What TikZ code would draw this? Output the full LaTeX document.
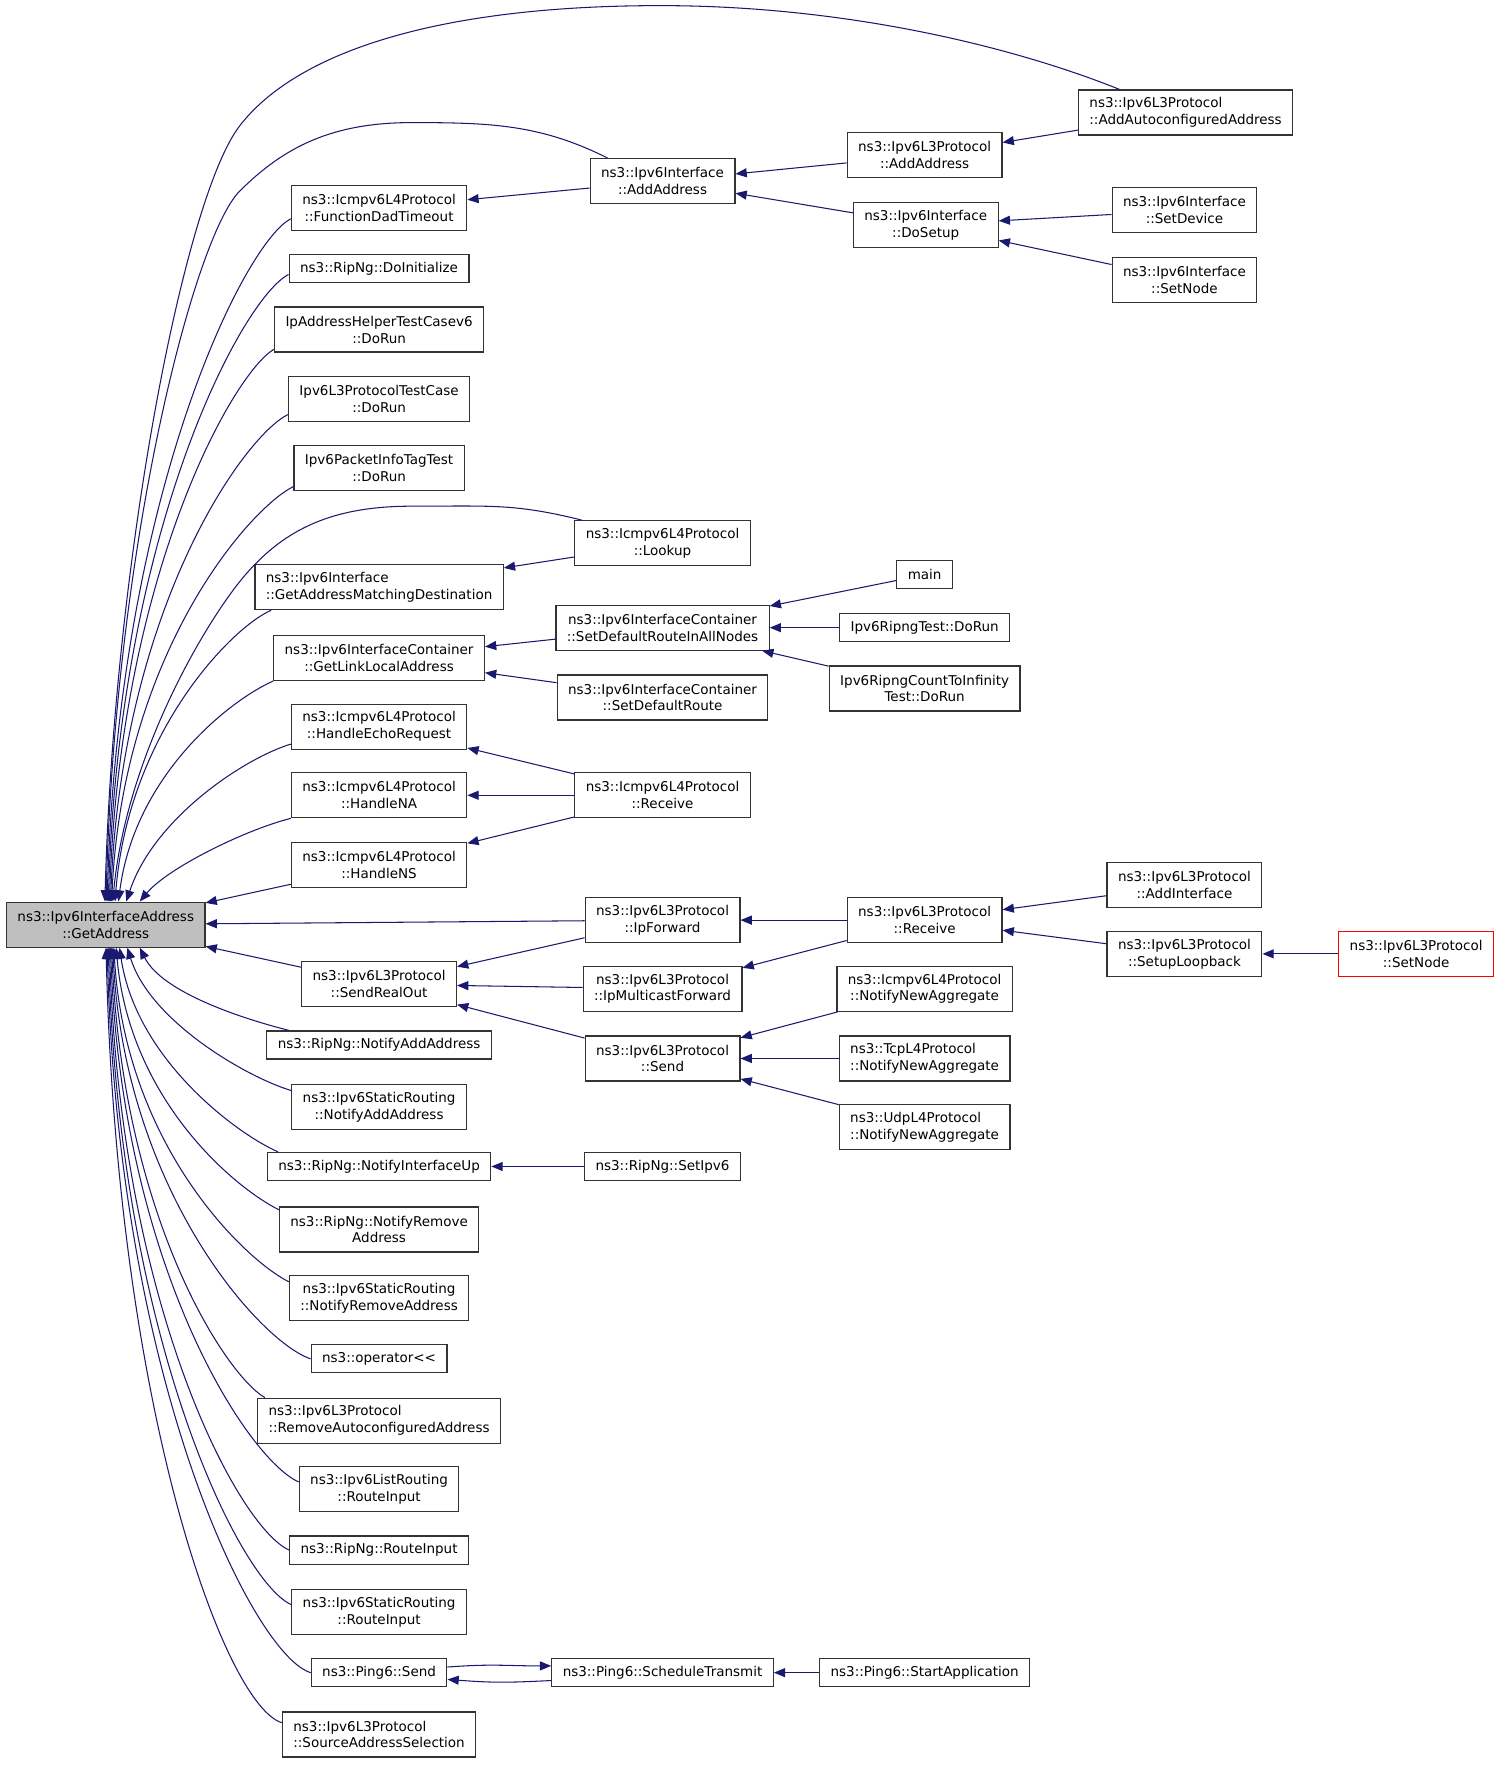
\documentclass[tikz,border=0pt]{standalone}
\usepackage{fontspec}
\setmainfont{DejaVu Sans}
\usetikzlibrary{arrows.meta}
\definecolor{edgeblue}{HTML}{191970}
\definecolor{rootgray}{HTML}{BFBFBF}
\tikzset{
  func/.style={draw=black!80, line width=0.8pt, fill=white, inner xsep=7.3pt,
    inner ysep=2pt, minimum height=18.75pt, align=center,
    font=\fontsize{9}{11.25}\selectfont},
  func2/.style={func, minimum height=30pt},
  leftfunc/.style={func2, align=left},
  focus/.style={func2, fill=rootgray},
  redbox/.style={func2, draw=red},
  callarrow/.style={draw=edgeblue, line width=0.7pt,
    -{Triangle[length=7.5pt,width=6pt]}}
}
\begin{document}
\begin{tikzpicture}[x=0.75pt, y=-0.75pt]
\fill[white] (0,0) rectangle (1334,1570);
\useasboundingbox (0,0) rectangle (1334,1570);

% Root node
\node[focus] (root) at (94,822) {ns3::Ipv6InterfaceAddress\\::GetAddress};

% First level
\node[func2] (dadtimeout) at (337,185) {ns3::Icmpv6L4Protocol\\::FunctionDadTimeout};
\node[func] (doinit) at (337,239) {ns3::RipNg::DoInitialize};
\node[func2] (helperrun) at (337,293) {IpAddressHelperTestCasev6\\::DoRun};
\node[func2] (l3testrun) at (337,355) {Ipv6L3ProtocolTestCase\\::DoRun};
\node[func2] (taginforun) at (337,416) {Ipv6PacketInfoTagTest\\::DoRun};
\node[leftfunc] (matchdest) at (337,522) {ns3::Ipv6Interface\\::GetAddressMatchingDestination};
\node[func2] (linklocal) at (337,585) {ns3::Ipv6InterfaceContainer\\::GetLinkLocalAddress};
\node[func2] (echoreq) at (337,646) {ns3::Icmpv6L4Protocol\\::HandleEchoRequest};
\node[func2] (handlena) at (337,707) {ns3::Icmpv6L4Protocol\\::HandleNA};
\node[func2] (handlens) at (337,769) {ns3::Icmpv6L4Protocol\\::HandleNS};
\node[func2] (sendrealout) at (337,875) {ns3::Ipv6L3Protocol\\::SendRealOut};
\node[func] (notifyadd) at (337,929) {ns3::RipNg::NotifyAddAddress};
\node[func2] (staticadd) at (337,984) {ns3::Ipv6StaticRouting\\::NotifyAddAddress};
\node[func] (ifup) at (337,1037) {ns3::RipNg::NotifyInterfaceUp};
\node[func2] (notifyrem) at (337,1093) {ns3::RipNg::NotifyRemove\\Address};
\node[func2] (staticrem) at (337,1154) {ns3::Ipv6StaticRouting\\::NotifyRemoveAddress};
\node[func] (oplshift) at (337,1208) {ns3::operator<{}<};
\node[leftfunc] (removeauto) at (337,1263) {ns3::Ipv6L3Protocol\\::RemoveAutoconfiguredAddress};
\node[func2] (listroute) at (337,1324) {ns3::Ipv6ListRouting\\::RouteInput};
\node[func] (riproute) at (337,1378) {ns3::RipNg::RouteInput};
\node[func2] (staticroute) at (337,1433) {ns3::Ipv6StaticRouting\\::RouteInput};
\node[func] (pingsend) at (337,1487) {ns3::Ping6::Send};
\node[leftfunc] (srcsel) at (337,1542) {ns3::Ipv6L3Protocol\\::SourceAddressSelection};

% Second level
\node[func2] (ifaddaddr) at (589,161) {ns3::Ipv6Interface\\::AddAddress};
\node[func2] (lookup) at (589,483) {ns3::Icmpv6L4Protocol\\::Lookup};
\node[func2] (defallnodes) at (589,558) {ns3::Ipv6InterfaceContainer\\::SetDefaultRouteInAllNodes};
\node[func2] (defroute) at (589,620) {ns3::Ipv6InterfaceContainer\\::SetDefaultRoute};
\node[func2] (icmprecv) at (589,707) {ns3::Icmpv6L4Protocol\\::Receive};
\node[func2] (ipforward) at (589,818) {ns3::Ipv6L3Protocol\\::IpForward};
\node[func2] (mcastfwd) at (589,879) {ns3::Ipv6L3Protocol\\::IpMulticastForward};
\node[func2] (l3send) at (589,941) {ns3::Ipv6L3Protocol\\::Send};
\node[func] (setipv6) at (589,1037) {ns3::RipNg::SetIpv6};
\node[func] (schedtx) at (589,1487) {ns3::Ping6::ScheduleTransmit};

% Third level
\node[func2] (l3addaddr) at (822,138) {ns3::Ipv6L3Protocol\\::AddAddress};
\node[func2] (dosetup) at (823,200) {ns3::Ipv6Interface\\::DoSetup};
\node[func] (main) at (822,511) {main};
\node[func] (ripngrun) at (822,558) {Ipv6RipngTest::DoRun};
\node[func2] (infrun) at (822,612) {Ipv6RipngCountToInfinity\\Test::DoRun};
\node[func2] (l3recv) at (822,818) {ns3::Ipv6L3Protocol\\::Receive};
\node[func2] (icmpagg) at (822,879) {ns3::Icmpv6L4Protocol\\::NotifyNewAggregate};
\node[leftfunc] (tcpagg) at (822,941) {ns3::TcpL4Protocol\\::NotifyNewAggregate};
\node[leftfunc] (udpagg) at (822,1002) {ns3::UdpL4Protocol\\::NotifyNewAggregate};
\node[func] (startapp) at (822,1487) {ns3::Ping6::StartApplication};

% Fourth level
\node[leftfunc] (addauto) at (1054,100) {ns3::Ipv6L3Protocol\\::AddAutoconfiguredAddress};
\node[func2] (setdevice) at (1053,187) {ns3::Ipv6Interface\\::SetDevice};
\node[func2] (ifsetnode) at (1053,249) {ns3::Ipv6Interface\\::SetNode};
\node[func2] (addiface) at (1053,787) {ns3::Ipv6L3Protocol\\::AddInterface};
\node[func2] (setuploop) at (1053,848) {ns3::Ipv6L3Protocol\\::SetupLoopback};

% Fifth level
\node[redbox] (l3setnode) at (1259,848) {ns3::Ipv6L3Protocol\\::SetNode};

% Long arcs into the root
\draw[callarrow] ([shift={(37,0)}]addauto.north west) .. controls +(-100,-40) and +(160,0) .. (587,5)
  .. controls +(-200,0) and +(50,-65) .. (213,112)
  .. controls +(-50,65) and +(8,-300) .. ([shift={(88,0)}]root.north west);
\draw[callarrow] ([shift={(16,0)}]ifaddaddr.north west) .. controls +(-60,-30) and +(70,0) .. (366,109)
  .. controls +(-70,0) and +(40,-40) .. (213,170)
  .. controls +(-40,40) and +(8,-320) .. ([shift={(89,0)}]root.north west);
\draw[callarrow] ([shift={(7,0)}]lookup.north west) .. controls +(-60,-15) and +(70,0) .. (366,450)
  .. controls +(-70,0) and +(35,-40) .. (219,510)
  .. controls +(-35,40) and +(12,-130) .. ([shift={(95,0)}]root.north west);

% Callers above the root
\draw[callarrow] ([shift={(0,-11)}]dadtimeout.south west) .. controls +(-40,20) and +(10,-365) .. ([shift={(90,0)}]root.north west);
\draw[callarrow] ([shift={(0,-8)}]doinit.south west) .. controls +(-40,20) and +(10,-335) .. ([shift={(91,0)}]root.north west);
\draw[callarrow] ([shift={(0,-3)}]helperrun.south west) .. controls +(-35,20) and +(10,-295) .. ([shift={(92,0)}]root.north west);
\draw[callarrow] ([shift={(0,-7)}]l3testrun.south west) .. controls +(-40,20) and +(10,-260) .. ([shift={(93,0)}]root.north west);
\draw[callarrow] ([shift={(0,-4)}]taginforun.south west) .. controls +(-40,20) and +(10,-220) .. ([shift={(94,0)}]root.north west);
\draw[callarrow] ([shift={(15,0)}]matchdest.south west) .. controls +(-35,15) and +(12,-150) .. ([shift={(97,0)}]root.north west);
\draw[callarrow] (linklocal.south west) .. controls +(-35,15) and +(15,-115) .. ([shift={(100,0)}]root.north west);
\draw[callarrow] ([shift={(0,-5)}]echoreq.south west) .. controls +(-40,12) and +(25,-75) .. ([shift={(107,0)}]root.north west);
\draw[callarrow] (handlena.south west) .. controls +(-40,10) and +(25,-30) .. ([shift={(119,0)}]root.north west);
\draw[callarrow] (handlens) -- (root);
\draw[callarrow] (ipforward) -- (root);
\draw[callarrow] (sendrealout) -- (root);

% Callers below the root
\draw[callarrow] ([shift={(20,0)}]notifyadd.north west) .. controls +(-40,-10) and +(20,40) .. ([shift={(119,0)}]root.south west);
\draw[callarrow] ([shift={(0,6)}]staticadd.north west) .. controls +(-40,-12) and +(20,65) .. ([shift={(108,0)}]root.south west);
\draw[callarrow] ([shift={(10,0)}]ifup.north west) .. controls +(-35,-15) and +(15,100) .. ([shift={(101,0)}]root.south west);
\draw[callarrow] ([shift={(0,3)}]notifyrem.north west) .. controls +(-40,-20) and +(12,135) .. ([shift={(98,0)}]root.south west);
\draw[callarrow] ([shift={(0,6)}]staticrem.north west) .. controls +(-40,-20) and +(10,175) .. ([shift={(96,0)}]root.south west);
\draw[callarrow] (oplshift.west) .. controls +(-45,-15) and +(10,215) .. ([shift={(95,0)}]root.south west);
\draw[callarrow] ([shift={(7,0)}]removeauto.north west) .. controls +(-35,-20) and +(10,240) .. ([shift={(94,0)}]root.south west);
\draw[callarrow] ([shift={(0,14)}]listroute.north west) .. controls +(-45,-20) and +(10,285) .. ([shift={(93,0)}]root.south west);
\draw[callarrow] (riproute.west) .. controls +(-45,-20) and +(10,320) .. ([shift={(92,0)}]root.south west);
\draw[callarrow] ([shift={(0,14)}]staticroute.north west) .. controls +(-45,-20) and +(10,350) .. ([shift={(91,0)}]root.south west);
\draw[callarrow] (pingsend.west) .. controls +(-50,-15) and +(10,390) .. ([shift={(90,0)}]root.south west);
\draw[callarrow] ([shift={(0,10)}]srcsel.north west) .. controls +(-50,-15) and +(10,415) .. ([shift={(89,0)}]root.south west);

% Deeper calls
\draw[callarrow] (ifaddaddr) -- (dadtimeout);
\draw[callarrow] (l3addaddr) -- (ifaddaddr);
\draw[callarrow] (dosetup) -- (ifaddaddr);
\draw[callarrow] (addauto) -- (l3addaddr);
\draw[callarrow] (setdevice) -- (dosetup);
\draw[callarrow] (ifsetnode) -- (dosetup);
\draw[callarrow] (lookup) -- (matchdest);
\draw[callarrow] (defallnodes) -- (linklocal);
\draw[callarrow] (defroute) -- (linklocal);
\draw[callarrow] (main) -- (defallnodes);
\draw[callarrow] (ripngrun) -- (defallnodes);
\draw[callarrow] (infrun) -- (defallnodes);
\draw[callarrow] (icmprecv) -- (echoreq);
\draw[callarrow] (icmprecv) -- (handlena);
\draw[callarrow] (icmprecv) -- (handlens);
\draw[callarrow] (ipforward) -- (sendrealout);
\draw[callarrow] (mcastfwd) -- (sendrealout);
\draw[callarrow] (l3send) -- (sendrealout);
\draw[callarrow] (l3recv) -- (ipforward);
\draw[callarrow] (l3recv) -- (mcastfwd);
\draw[callarrow] (addiface) -- (l3recv);
\draw[callarrow] (setuploop) -- (l3recv);
\draw[callarrow] (l3setnode) -- (setuploop);
\draw[callarrow] (icmpagg) -- (l3send);
\draw[callarrow] (tcpagg) -- (l3send);
\draw[callarrow] (udpagg) -- (l3send);
\draw[callarrow] (setipv6) -- (ifup);
\draw[callarrow] (startapp) -- (schedtx);
\draw[callarrow] ([shift={(0,-5)}]pingsend.east) .. controls +(40,-3) and +(-40,0) .. ([shift={(0,-6)}]schedtx.west);
\draw[callarrow] ([shift={(0,7)}]schedtx.west) .. controls +(-40,2) and +(40,3) .. ([shift={(0,6)}]pingsend.east);

\end{tikzpicture}
\end{document}
